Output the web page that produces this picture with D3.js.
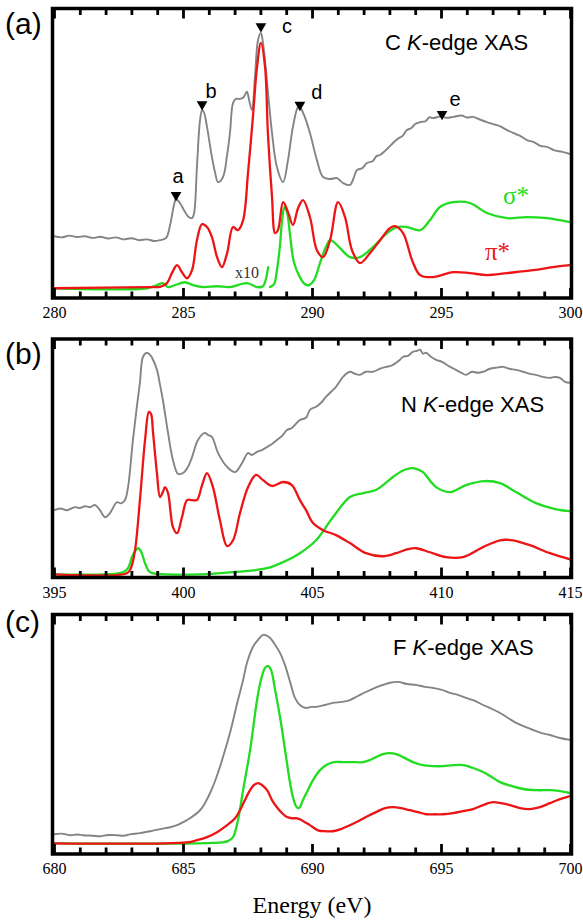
<!DOCTYPE html>
<html>
<head>
<meta charset="utf-8">
<script src="https://cdn.jsdelivr.net/npm/d3@7"></script>
<style>
  body { margin: 0; background: #fff; }
  svg { display: block; }
</style>
</head>
<body>
<svg id="chart" width="583" height="920"></svg>
<script>
// ---------- C K-edge (energy in eV, intensity in arb. units 0–100) ----------
const carbonExp = [
  [280.0,21.0],[280.3,20.6],[280.6,21.2],[280.9,20.7],[281.2,21.0],[281.5,20.4],[281.8,20.8],
  [282.1,20.2],[282.4,20.6],[282.7,19.9],[283.0,20.3],[283.3,19.6],[283.6,19.9],[283.9,19.3],
  [284.1,19.6],[284.34,20.3],[284.50,24.9],[284.65,31.9],[284.73,34.0],[284.88,32.6],[285.04,30.1],
  [285.19,28.0],[285.35,27.3],[285.43,29.1],[285.54,45.2],[285.66,61.6],[285.74,65.1],[285.81,64.4],
  [285.93,59.2],[286.12,48.7],[286.24,43.4],[286.36,39.9],[286.55,41.7],[286.71,49.4],[286.82,57.1],
  [286.94,67.6],[287.05,69.0],[287.21,69.0],[287.33,69.4],[287.40,70.4],[287.48,71.5],[287.56,68.7],
  [287.67,65.1],[287.79,76.7],[287.91,89.7],[288.02,92.1],[288.10,88.6],[288.26,74.6],[288.45,57.1],
  [288.64,45.2],[288.88,39.9],[289.07,47.6],[289.26,59.2],[289.46,66.2],[289.53,66.2],[289.69,63.4],
  [289.92,57.1],[290.19,47.6],[290.43,41.7],[290.70,41.0],[290.97,41.3],[291.20,39.6],[291.47,38.9],
  [291.62,41.5],[291.74,44.1],[291.95,44.8],[292.13,46.6],[292.35,47.2],[292.50,49.0],[292.64,49.4],
  [292.85,51.0],[293.00,52.3],[293.14,53.6],[293.35,55.2],[293.50,56.0],[293.68,58.1],[293.85,58.8],
  [294.00,60.2],[294.19,60.9],[294.40,61.2],[294.55,62.6],[294.69,62.3],[295.00,62.9],[295.20,62.4],
  [295.47,62.7],[295.80,63.2],[296.00,62.5],[296.24,62.7],[296.50,61.8],[296.78,60.9],[297.10,60.0],
  [297.30,59.4],[297.56,58.1],[297.90,56.7],[298.10,55.9],[298.33,54.6],[298.60,53.9],[298.85,52.6],
  [299.11,52.2],[299.40,51.0],[299.70,50.5],[300.0,49.7]
];
const carbonPi = [
  [280.0,2.8],[283.72,3.2],[284.11,3.3],[284.38,4.6],[284.57,8.1],[284.77,10.9],[284.96,8.4],
  [285.16,6.3],[285.35,9.1],[285.54,19.6],[285.74,25.2],[285.93,24.2],[286.12,20.7],[286.32,13.7],
  [286.51,10.2],[286.71,15.1],[286.94,24.2],[287.13,23.1],[287.33,26.6],[287.52,43.1],[287.71,62.7],
  [287.87,80.2],[288.02,88.6],[288.18,80.2],[288.29,57.1],[288.45,34.7],[288.57,22.1],[288.68,23.1],
  [288.88,32.9],[289.07,29.4],[289.26,24.9],[289.46,30.8],[289.65,33.6],[289.92,27.7],[290.19,16.1],
  [290.43,13.7],[290.70,19.6],[291.01,32.9],[291.28,27.7],[291.55,16.1],[291.86,11.6],[292.25,15.1],
  [292.64,19.6],[293.02,23.8],[293.22,24.5],[293.53,22.1],[293.88,12.6],[294.19,7.4],[294.69,6.7],
  [295.47,8.4],[296.12,8.1],[296.78,7.4],[297.56,8.1],[298.57,9.1],[299.34,10.2],[300.0,10.9]
];
// sigma* below 288.3 eV is shown magnified x10
const carbonSigmaX10 = [
  [280.0,2.8],[283.60,2.8],[283.99,3.9],[284.22,4.6],[284.42,3.2],[284.69,3.9],[285.08,4.9],
  [285.39,3.9],[285.78,3.2],[286.32,3.5],[286.82,3.2],[287.48,4.6],[287.87,3.2],[288.10,3.5],
  [288.20,5.5],[288.30,10.2]
];
const carbonSigma = [
  [288.37,3.2],[288.53,4.2],[288.64,9.1],[288.76,17.9],[288.84,26.6],[288.93,31.2],[289.03,29.4],
  [289.15,21.4],[289.30,11.9],[289.53,6.7],[289.73,4.2],[289.88,3.9],[290.08,5.6],[290.31,11.6],
  [290.54,17.2],[290.70,19.6],[290.89,18.6],[291.09,16.8],[291.47,13.7],[291.86,13.7],[292.36,17.2],
  [292.91,22.1],[293.29,24.2],[293.68,24.2],[294.19,23.1],[294.57,26.6],[294.96,31.2],[295.47,32.9],
  [296.12,32.6],[296.78,29.1],[297.56,27.3],[298.33,27.7],[299.11,27.3],[300.0,25.9]
];
const carbonPeaks = [
  { name: "a", energy: 284.73, value: 33.3 },
  { name: "b", energy: 285.74, value: 65.0 },
  { name: "c", energy: 288.02, value: 92.3 },
  { name: "d", energy: 289.53, value: 64.8 },
  { name: "e", energy: 295.04, value: 61.6 }
];

// ---------- N K-edge ----------
const nitrogenExp = [
  [395.0,27.9],[395.25,28.6],[395.50,27.9],[395.81,29.2],[396.01,28.8],[396.2,29.6],[396.40,29.2],
  [396.59,30.1],[396.78,27.9],[396.98,24.9],[397.17,26.7],[397.44,31.3],[397.6,30.8],[397.75,32.2],
  [397.87,37.7],[398.06,57.8],[398.22,72.7],[398.33,82.1],[398.45,93.2],[398.60,94.9],[398.72,94.0],
  [398.80,92.8],[398.99,87.6],[399.11,81.2],[399.22,74.8],[399.42,60.8],[399.61,49.3],[399.81,43.3],
  [400.00,43.7],[400.19,46.3],[400.35,50.5],[400.58,57.8],[400.85,60.8],[400.97,59.9],[401.12,59.1],
  [401.36,52.2],[401.71,46.3],[402.02,44.1],[402.29,48.0],[402.52,52.2],[402.67,51.4],[402.87,52.7],
  [403.06,53.5],[403.26,54.8],[403.45,56.1],[403.64,57.8],[403.84,59.5],[404.03,62.0],[404.22,62.9],
  [404.53,66.3],[404.77,67.2],[404.92,70.6],[405.16,71.9],[405.35,73.6],[405.54,76.1],[405.74,78.3],
  [405.93,80.4],[406.09,82.9],[406.20,84.6],[406.47,86.8],[406.67,85.9],[406.86,85.5],[407.09,86.8],
  [407.36,86.8],[407.64,88.1],[407.87,88.9],[408.06,89.3],[408.26,90.6],[408.41,91.9],[408.53,93.2],
  [408.72,93.6],[408.91,95.3],[409.07,95.7],[409.19,96.2],[409.30,94.5],[409.42,94.9],[409.61,93.2],
  [409.81,91.9],[410.04,91.0],[410.35,88.9],[410.58,87.6],[410.78,86.4],[410.97,85.5],[411.20,86.8],
  [411.43,86.4],[411.63,86.8],[411.90,88.1],[412.13,88.5],[412.40,88.9],[412.64,88.1],[412.91,87.6],
  [413.18,86.8],[413.45,85.9],[413.68,85.5],[413.95,84.6],[414.22,84.2],[414.42,84.6],[414.61,84.2],
  [414.81,82.5],[415.0,82.1]
];
const nitrogenPi = [
  [395.0,0.6],[397.83,1.1],[397.98,3.2],[398.14,10.9],[398.33,32.2],[398.53,57.8],[398.68,69.7],
  [398.76,68.9],[398.84,60.8],[398.99,43.7],[399.11,33.5],[399.22,35.6],[399.30,37.7],[399.42,35.2],
  [399.61,20.7],[399.77,18.1],[399.96,24.9],[400.16,32.2],[400.35,32.2],[400.54,32.2],[400.74,38.6],
  [400.93,43.7],[401.16,37.7],[401.43,23.7],[401.71,12.6],[401.94,15.1],[402.21,26.7],[402.52,37.7],
  [402.83,42.9],[403.10,40.7],[403.45,38.2],[403.88,39.9],[404.22,38.6],[404.53,32.2],[404.77,27.9],
  [405.04,22.4],[405.43,19.4],[405.93,17.3],[406.47,13.9],[407.09,9.6],[407.75,8.3],[408.26,9.6],
  [408.72,11.3],[409.03,11.7],[409.57,10.0],[410.19,7.9],[410.85,7.9],[411.63,12.2],[412.29,15.1],
  [412.79,15.1],[413.45,13.0],[414.22,9.6],[415.0,7.0]
];
const nitrogenSigma = [
  [395.0,0.6],[397.67,1.5],[397.87,3.2],[398.02,7.9],[398.14,10.4],[398.26,11.7],[398.37,10.4],
  [398.53,5.3],[398.68,1.9],[398.80,1.1],[400.66,0.6],[401.94,1.5],[403.26,3.2],[403.88,5.8],
  [404.53,9.6],[405.16,15.1],[405.81,24.9],[406.47,33.5],[406.98,35.2],[407.48,36.5],[408.14,42.0],
  [408.49,44.6],[408.84,45.8],[409.07,45.4],[409.30,44.1],[409.81,37.7],[410.35,35.6],[410.97,38.6],
  [411.71,40.3],[412.29,39.4],[412.91,35.6],[413.68,30.9],[414.42,28.4],[415.0,27.5]
];

// ---------- F K-edge ----------
const fluorineExp = [
  [680.0,7.6],[680.3,7.9],[680.62,7.2],[680.9,7.5],[681.12,7.2],[681.5,7.0],[681.78,6.8],[682.1,7.3],
  [682.44,7.2],[682.7,7.0],[682.95,7.6],[683.33,8.1],[683.72,8.9],[684.11,9.8],[684.50,10.6],
  [684.77,11.5],[685.08,13.2],[685.27,14.4],[685.66,17.8],[685.85,20.8],[686.05,25.1],[686.24,30.1],
  [686.43,36.1],[686.63,43.3],[686.82,50.5],[687.13,64.5],[687.33,73.0],[687.48,80.3],[687.71,87.0],
  [687.91,90.0],[688.10,92.1],[688.26,91.7],[688.37,90.9],[688.57,87.9],[688.76,84.5],[688.95,79.4],
  [689.15,72.2],[689.34,65.4],[689.53,62.4],[689.77,61.1],[689.96,61.6],[690.16,61.6],[690.50,62.4],
  [690.81,63.3],[691.16,63.7],[691.47,64.5],[691.78,66.2],[692.09,67.9],[692.44,69.6],[692.75,70.9],
  [693.02,71.8],[693.33,72.2],[693.68,71.3],[694.03,70.9],[694.38,70.1],[694.69,69.6],[695.04,68.8],
  [695.35,67.5],[695.66,66.7],[695.97,65.4],[696.32,64.1],[696.63,62.4],[696.98,60.7],[697.29,59.0],
  [697.60,56.9],[697.91,54.8],[698.26,53.1],[698.57,51.8],[698.91,50.5],[699.22,49.7],[699.61,48.4],
  [700.0,47.6]
];
const fluorineSigma = [
  [680.0,3.8],[686.55,4.2],[686.74,4.7],[686.94,6.4],[687.13,13.6],[687.33,26.3],[687.60,43.3],
  [687.87,64.5],[688.02,73.0],[688.18,78.1],[688.29,79.0],[688.41,77.3],[688.57,68.8],[688.76,57.3],
  [688.91,46.7],[689.03,37.8],[689.15,29.3],[689.26,23.4],[689.38,19.5],[689.46,18.7],[689.53,19.1],
  [689.65,22.1],[689.84,26.3],[690.04,30.6],[690.31,34.8],[690.54,36.9],[690.85,38.2],[691.20,38.2],
  [691.59,38.2],[691.98,38.2],[692.25,39.1],[692.48,40.3],[692.75,41.6],[693.02,42.0],[693.26,41.6],
  [693.53,40.3],[693.91,38.2],[694.30,36.9],[694.69,36.5],[695.08,36.5],[695.47,36.9],[695.85,36.9],
  [696.24,35.7],[696.63,34.0],[696.98,31.8],[697.29,29.7],[697.75,28.0],[698.18,26.8],[698.72,26.3],
  [699.22,26.3],[699.61,25.9],[700.0,25.1]
];
const fluorinePi = [
  [680.0,3.8],[685.16,4.2],[685.54,5.1],[685.93,6.4],[686.32,8.5],[686.71,11.5],[687.02,14.4],
  [687.21,17.8],[687.40,22.1],[687.60,26.3],[687.75,28.5],[687.91,29.3],[688.06,28.5],[688.26,26.3],
  [688.45,22.1],[688.64,19.1],[688.84,16.6],[689.03,14.9],[689.22,14.4],[689.38,14.4],[689.53,14.0],
  [689.73,12.7],[689.92,11.5],[690.23,9.3],[690.54,8.9],[690.81,8.9],[691.12,9.8],[691.71,12.7],
  [692.09,14.9],[692.48,17.0],[692.83,18.7],[693.14,19.1],[693.45,18.7],[693.80,17.8],[694.11,17.0],
  [694.42,16.1],[694.77,16.1],[695.08,16.1],[695.47,16.6],[695.85,17.4],[696.24,18.3],[696.63,20.0],
  [697.02,21.2],[697.33,20.8],[697.67,20.0],[698.06,18.7],[698.45,18.3],[698.84,19.1],[699.22,20.8],
  [699.61,22.5],[700.0,23.8]
];

// ---------- axis settings ----------
const carbonRange = [280, 300];
const nitrogenRange = [395, 415];
const fluorineRange = [680, 700];
const majorStep = 5;
const minorStep = 1;
const xTitle = "Energy (eV)";

// ---------- drawing ----------
const COLORS = { exp: "#848484", pi: "#ec1414", sigma: "#22dc22", ink: "#000" };
const SANS = "'Liberation Sans', Arial, Helvetica, sans-serif";
const SERIF = "'Liberation Serif', 'Times New Roman', Times, serif";

const svg = d3.select("#chart");
const X0 = 54, X1 = 570;          // inner plot edges
const FRAME_L = 52.5, FRAME_R = 571.5, FRAME_W = 3.5;

const panels = [
  { tag: "(a)", element: "C", domain: carbonRange, top: 8.5, bottom: 298,
    series: [
      { data: carbonExp, color: COLORS.exp, width: 1.9 },
      { data: carbonSigmaX10, color: COLORS.sigma, width: 2.3 },
      { data: carbonSigma, color: COLORS.sigma, width: 2.3 },
      { data: carbonPi, color: COLORS.pi, width: 2.3 }
    ],
    tagY: 34, titleX: 385, titleY: 50 },
  { tag: "(b)", element: "N", domain: nitrogenRange, top: 339, bottom: 577.5,
    series: [
      { data: nitrogenExp, color: COLORS.exp, width: 1.9 },
      { data: nitrogenSigma, color: COLORS.sigma, width: 2.3 },
      { data: nitrogenPi, color: COLORS.pi, width: 2.3 }
    ],
    tagY: 364, titleX: 401, titleY: 412 },
  { tag: "(c)", element: "F", domain: fluorineRange, top: 614.5, bottom: 854,
    series: [
      { data: fluorineExp, color: COLORS.exp, width: 1.9 },
      { data: fluorineSigma, color: COLORS.sigma, width: 2.3 },
      { data: fluorinePi, color: COLORS.pi, width: 2.3 }
    ],
    tagY: 632, titleX: 393, titleY: 655 }
];

panels.forEach((p, i) => {
  const g = svg.append("g");
  const x = d3.scaleLinear().domain(p.domain).range([X0, X1]);
  const y = d3.scaleLinear().domain([0, 100])
    .range([p.bottom - FRAME_W / 2, p.top + FRAME_W / 2]);
  p.x = x; p.y = y;

  const clipId = "clip" + i;
  g.append("clipPath").attr("id", clipId).append("rect")
    .attr("x", X0).attr("y", p.top).attr("width", X1 - X0).attr("height", p.bottom - p.top);

  const line = d3.line().x(d => x(d[0])).y(d => y(d[1])).curve(d3.curveCatmullRom.alpha(0.5));
  const lines = g.append("g").attr("clip-path", `url(#${clipId})`);
  p.series.forEach(s => {
    lines.append("path").datum(s.data)
      .attr("d", line).attr("fill", "none")
      .attr("stroke", s.color).attr("stroke-width", s.width)
      .attr("stroke-linejoin", "round").attr("stroke-linecap", "round");
  });

  const majors = d3.range(p.domain[0], p.domain[1] + 0.001, majorStep);
  const minors = d3.range(p.domain[0], p.domain[1] + 0.001, minorStep).filter(v => (v - p.domain[0]) % majorStep !== 0);

  const styleAxis = sel => {
    sel.select(".domain").remove();
    sel.selectAll(".tick line").attr("stroke", COLORS.ink).attr("stroke-width", 2.8);
  };

  // bottom axis: labels + inward ticks
  g.append("g").attr("transform", `translate(0,${p.bottom})`)
    .call(d3.axisBottom(x).tickValues(minors).tickSize(-6.5).tickFormat(""))
    .call(styleAxis);
  const bAx = g.append("g").attr("transform", `translate(0,${p.bottom})`)
    .call(d3.axisBottom(x).tickValues(majors).tickSize(-10).tickPadding(9).tickFormat(d3.format("d")))
    .call(styleAxis);
  bAx.selectAll("text").attr("font-family", SERIF).attr("font-size", 16).attr("fill", COLORS.ink);

  // top axis: inward ticks only
  g.append("g").attr("transform", `translate(0,${p.top})`)
    .call(d3.axisTop(x).tickValues(minors).tickSize(-6.5).tickFormat(""))
    .call(styleAxis);
  g.append("g").attr("transform", `translate(0,${p.top})`)
    .call(d3.axisTop(x).tickValues(majors).tickSize(-10).tickFormat(""))
    .call(styleAxis);

  // frame
  g.append("rect")
    .attr("x", FRAME_L).attr("y", p.top)
    .attr("width", FRAME_R - FRAME_L).attr("height", p.bottom - p.top)
    .attr("fill", "none").attr("stroke", COLORS.ink).attr("stroke-width", FRAME_W);

  // panel tag
  g.append("text").attr("x", 5).attr("y", p.tagY)
    .attr("font-family", SANS).attr("font-size", 30).attr("fill", COLORS.ink)
    .text(p.tag);

  // edge title
  const t = g.append("text").attr("x", p.titleX).attr("y", p.titleY)
    .attr("font-family", SANS).attr("font-size", 22).attr("fill", COLORS.ink);
  t.append("tspan").text(p.element + " ");
  t.append("tspan").attr("font-style", "italic").text("K");
  t.append("tspan").text("-edge XAS");
});

// peak markers on the C K-edge spectrum
const pa = panels[0];
const labelOffset = { a: [2, -12], b: [9, -6], c: [26, 7], d: [17, -6], e: [13, -8] };
const tri = d3.symbol().type(d3.symbolTriangle).size(50);
const mk = svg.append("g");
carbonPeaks.forEach(pk => {
  const cx = pa.x(pk.energy), cy = pa.y(pk.value) - 6;
  mk.append("path").attr("d", tri())
    .attr("transform", `translate(${cx},${cy}) rotate(180)`)
    .attr("fill", COLORS.ink);
  const off = labelOffset[pk.name];
  mk.append("text").attr("x", cx + off[0]).attr("y", cy + off[1])
    .attr("text-anchor", "middle")
    .attr("font-family", SANS).attr("font-size", 20).attr("fill", COLORS.ink)
    .text(pk.name);
});

// series labels in panel (a)
mk.append("text").attr("x", 235).attr("y", 278)
  .attr("font-family", SERIF).attr("font-size", 16).attr("fill", "#333")
  .text("x10");
mk.append("text").attr("x", 503).attr("y", 204)
  .attr("font-family", SERIF).attr("font-size", 25).attr("fill", COLORS.sigma)
  .text("σ*");
mk.append("text").attr("x", 485).attr("y", 260)
  .attr("font-family", SERIF).attr("font-size", 25).attr("fill", COLORS.pi)
  .text("π*");

// shared x-axis title
svg.append("text").attr("x", 312).attr("y", 913)
  .attr("text-anchor", "middle")
  .attr("font-family", SERIF).attr("font-size", 24).attr("fill", COLORS.ink)
  .text(xTitle);
</script>
</body>
</html>
